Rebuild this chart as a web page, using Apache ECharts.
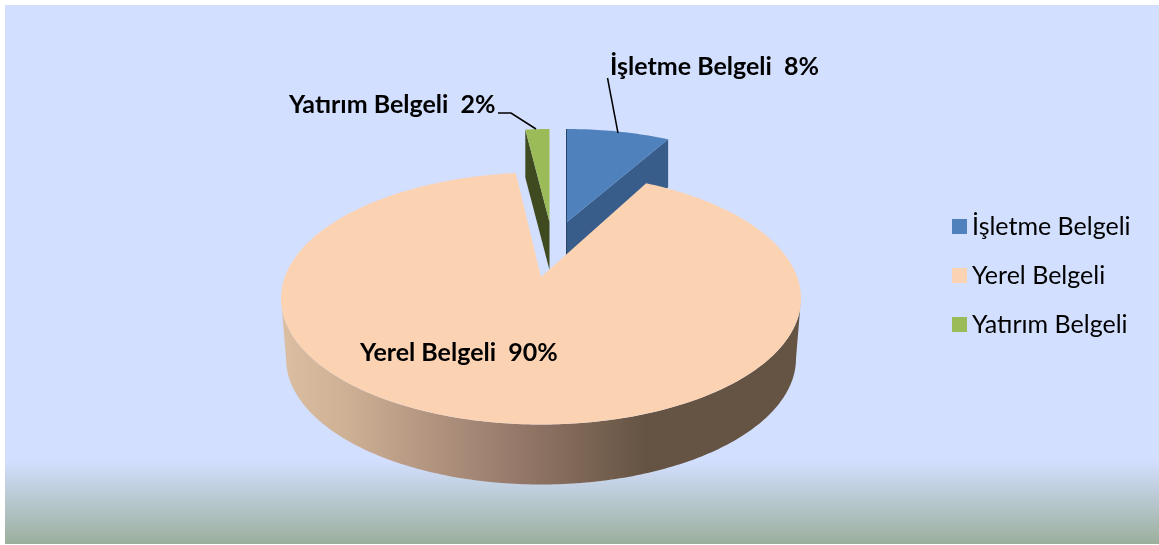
<!DOCTYPE html>
<html>
<head>
<meta charset="utf-8">
<title>Belge dağılımı</title>
<script src="https://cdn.jsdelivr.net/npm/echarts@6/dist/echarts.min.js"></script>
<style>
    html, body { margin: 0; padding: 0; background: #fff; }
    #main { width: 1159px; height: 545px; }
</style>
</head>
<body>
<div id="main"></div>
<script>
    // degerler
    var categories = ['İşletme Belgeli', 'Yerel Belgeli', 'Yatırım Belgeli'];
    var values = [8.3, 89.7, 2.0];

    var colors = ['#4F81BD', '#FBD3B3', '#9BBB59'];
    var wallColors = ['#385D8A', null, '#404A20'];

    // 3B pastanin gorunumu: tepe noktasi ve elips, her dilim icin
    var shapes = [
        { ax: 567, ay: 222, cy: 250, rx: 250, ry: 121, depth: 48 },
        { ax: 541, ay: 277, cy: 298.5, rx: 260, ry: 126, depth: 60, botRx: 255, botCy: 358.5 },
        { ax: 549.5, ay: 222, cy: 250, rx: 250, ry: 121, depth: 48 }
    ];
    var labels = [
        { x: 610, y: 67, line: [[607.5, 78], [618, 133]] },
        { x: 360, y: 353, line: null },
        { x: 289, y: 105, line: [[498, 113], [511, 113], [536, 129]] }
    ];
    var persp = 0.77; // arkadaki acilar perspektifle daralir

    var total = values.reduce(function (a, b) { return a + b; }, 0);

    function rad(v) {
        return v / total * Math.PI * 2;
    }
    function ellipsePoint(cx, cy, rx, ry, theta) {
        var t = Math.atan2(persp * Math.sin(theta), Math.cos(theta));
        return [cx + rx * Math.sin(t), cy - ry * Math.cos(t)];
    }
    function sliceRange(i) {
        var start = 0;
        for (var k = 0; k < i; k++) start += values[k];
        return [rad(start), rad(start + values[i])];
    }

    function renderSlice(i, api) {
        var s = shapes[i];
        var range = sliceRange(i);
        var a0 = range[0], a1 = range[1];
        var steps = Math.max(4, Math.round((a1 - a0) / 0.02));
        var top = [[s.ax, s.ay]];
        for (var n = 0; n <= steps; n++) {
            top.push(ellipsePoint(s.ax, s.cy, s.rx, s.ry, a0 + (a1 - a0) * n / steps));
        }
        var children = [];
        var first = top[1], last = top[top.length - 1];

        if (i === 1) {
            // on duvar
            var wall = [];
            var back = [];
            for (var d = 90; d <= 270; d += 1) {
                var r = d * Math.PI / 180;
                wall.push([s.ax + s.rx * Math.sin(r), s.cy - s.ry * Math.cos(r)]);
                back.unshift([s.ax + s.botRx * Math.sin(r), s.botCy - s.ry * Math.cos(r)]);
            }
            children.push({
                type: 'polygon',
                shape: { points: wall.concat(back) },
                style: {
                    fill: new echarts.graphic.LinearGradient(281, 0, 801, 0, [
                        { offset: 0, color: '#DCBEA2' },
                        { offset: 0.12, color: '#CFB196' },
                        { offset: 0.45, color: '#96796A' },
                        { offset: 0.7, color: '#655443' },
                        { offset: 1, color: '#655443' }
                    ], true)
                }
            });
        } else if (i === 0) {
            // kesik yuz, saga bakan
            children.push({
                type: 'polygon',
                shape: { points: [[s.ax, s.ay], last, [last[0], last[1] + s.depth], [s.ax, s.ay + s.depth]] },
                style: { fill: wallColors[i] }
            });
            children.push({
                type: 'line',
                shape: { x1: s.ax - 0.5, y1: first[1], x2: s.ax - 0.5, y2: s.ay + s.depth - 5 },
                style: { stroke: '#2A4568', lineWidth: 1 }
            });
        } else {
            // kesik yuz, sola bakan
            children.push({
                type: 'polygon',
                shape: { points: [[s.ax, s.ay], first, [first[0], first[1] + s.depth], [s.ax, s.ay + s.depth]] },
                style: { fill: wallColors[i] }
            });
        }

        children.push({
            type: 'polygon',
            shape: { points: top },
            style: { fill: colors[i] }
        });

        if (labels[i].line) {
            children.push({
                type: 'polyline',
                shape: { points: labels[i].line },
                style: { stroke: '#000', lineWidth: 1.5, fill: 'none' }
            });
        }
        children.push({
            type: 'text',
            style: {
                text: categories[i] + '  ' + Math.round(api.value(0) / total * 100) + '%',
                x: labels[i].x,
                y: labels[i].y,
                fill: '#000',
                fontFamily: 'Lato',
                fontWeight: 'bold',
                fontSize: 25,
                textAlign: 'left',
                textVerticalAlign: 'middle'
            }
        });
        return { type: 'group', children: children };
    }

    var myChart = echarts.init(document.getElementById('main'), null, { renderer: 'canvas' });

    var option = {
        animation: false,
        backgroundColor: '#fff',
        color: colors,
        graphic: [{
            type: 'rect',
            z: 0,
            silent: true,
            shape: { x: 5, y: 5, width: 1154, height: 539 },
            style: {
                fill: new echarts.graphic.LinearGradient(0, 0, 0, 1, [
                    { offset: 0, color: '#D3DFFF' },
                    { offset: 0.845, color: '#D3DFFF' },
                    { offset: 1, color: '#9BAF9C' }
                ])
            }
        }],
        legend: {
            orient: 'vertical',
            left: 947,
            top: 209,
            itemWidth: 15,
            itemHeight: 15,
            itemGap: 24,
            icon: 'rect',
            selectedMode: false,
            data: categories,
            textStyle: { fontFamily: 'Lato', fontSize: 25, lineHeight: 24, color: '#000' }
        },
        series: categories.map(function (name, i) {
            return {
                type: 'custom',
                name: name,
                coordinateSystem: 'none',
                silent: true,
                z: i === 1 ? 3 : 2,
                itemStyle: { color: colors[i] },
                data: [values[i]],
                renderItem: function (params, api) {
                    return renderSlice(i, api);
                }
            };
        })
    };

    option && myChart.setOption(option);
</script>
</body>
</html>
